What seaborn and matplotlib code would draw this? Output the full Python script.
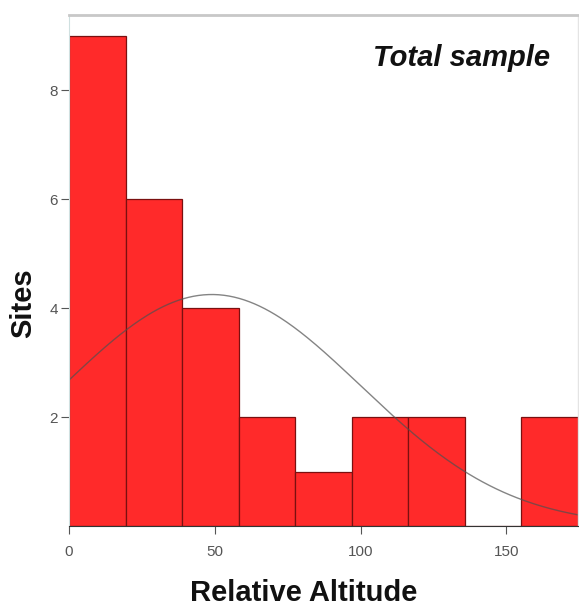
import numpy as np
import pandas as pd
import seaborn as sns
import matplotlib.pyplot as plt

# histogram bins (relative altitude) and counts of sites
binEdges = [0, 19.4, 38.8, 58.2, 77.6, 97.0, 116.4, 135.8, 155.2, 174.6]
siteCounts = [9, 6, 4, 2, 1, 2, 2, 0, 2]
# normal curve parameters
curveMean = 49.0
curveSd = 51.0

binMids = [(a + b) / 2 for a, b in zip(binEdges[:-1], binEdges[1:])]
df = pd.DataFrame({'Altitude': binMids, 'Sites': siteCounts})

sns.set_style('white')
plt.rcParams['font.family'] = ['Liberation Sans', 'DejaVu Sans']

fig = plt.figure(figsize=(5.79, 6.08), dpi=100)
ax = fig.add_axes([0.1192, 0.1349, 0.879, 0.8404])

sns.histplot(data=df, x='Altitude', weights='Sites', bins=binEdges,
             color='#ff2a2a', edgecolor='#7a1010', linewidth=0.9, alpha=1, ax=ax)

# fitted normal curve
total = sum(siteCounts)
width = binEdges[1] - binEdges[0]
xs = np.linspace(binEdges[0], binEdges[-1], 300)
ys = total * width * np.exp(-0.5 * ((xs - curveMean) / curveSd) ** 2) / (curveSd * np.sqrt(2 * np.pi))
sns.lineplot(x=xs, y=ys, color='#505050', alpha=0.7, linewidth=1.0, ax=ax)

ax.set_xlim(binEdges[0], binEdges[-1])
ax.set_ylim(0, 9.38)
ax.set_xticks([0, 50, 100, 150])
ax.set_yticks([2, 4, 6, 8])
ax.tick_params(axis='both', direction='out', length=6, width=0.8, labelsize=11,
               labelcolor='#555555', color='#555555', bottom=True, left=True)
ax.tick_params(axis='x', pad=8)
ax.tick_params(axis='y', pad=2)

ax.spines['bottom'].set_color('#333333')
ax.spines['bottom'].set_linewidth(0.8)
ax.spines['left'].set_color('#cfe0e0')
ax.spines['left'].set_linewidth(0.8)
ax.spines['top'].set_color('#c8c8c8')
ax.spines['top'].set_linewidth(2.0)
ax.spines['right'].set_color('#e4e4e4')
ax.spines['right'].set_linewidth(1.0)

ax.set_xlabel('Relative Altitude', fontsize=21, fontweight='bold', color='#111111')
ax.set_ylabel('Sites', fontsize=21, fontweight='bold', color='#111111')
ax.xaxis.set_label_coords(0.462, -0.104)
ax.yaxis.set_label_coords(-0.063, 0.436)

ax.text(0.945, 0.900, 'Total sample', transform=ax.transAxes, ha='right', va='baseline',
        fontsize=21, fontweight='bold', fontstyle='italic', color='#111111')

plt.savefig('out.png', dpi=100)
